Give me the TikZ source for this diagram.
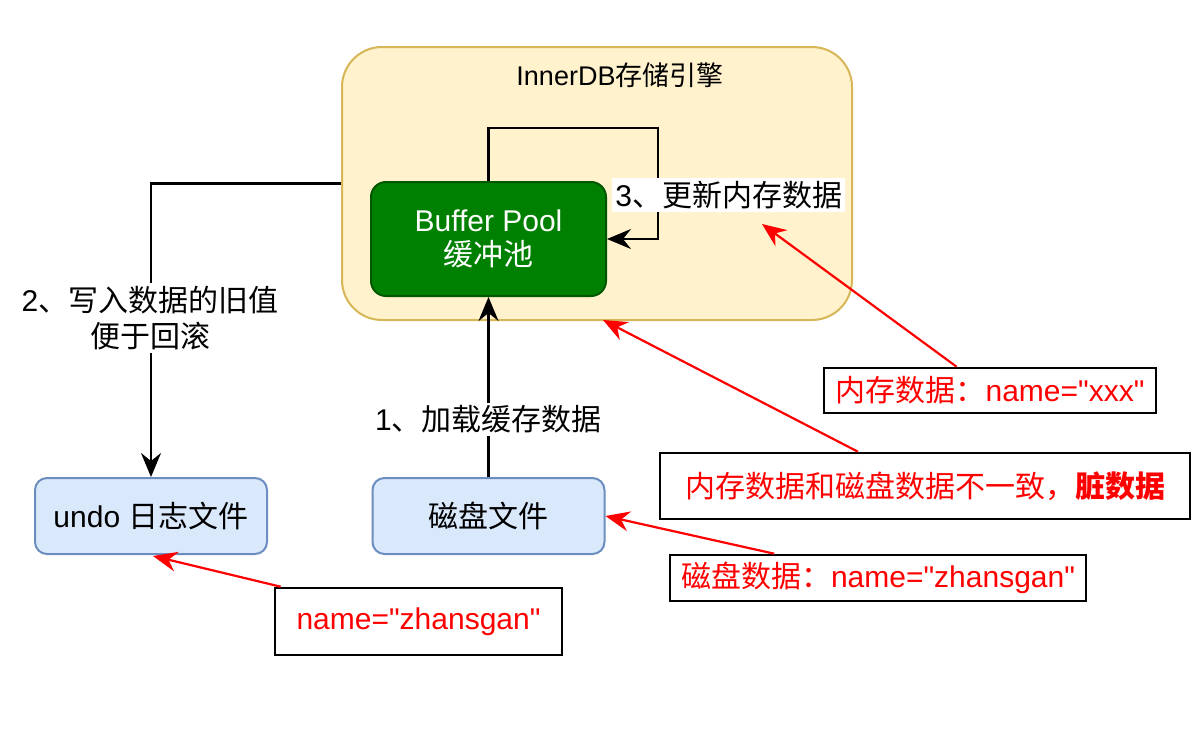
\documentclass[tikz,border=0pt]{standalone}
\usepackage{fontspec}
\setmainfont{Liberation Sans}[Ligatures=TeXOff]
\newfontfamily\cjk{Noto Sans CJK SC}
\usetikzlibrary{arrows.meta,calc}
\definecolor{engfill}{HTML}{FFF2CC}
\definecolor{engdraw}{HTML}{D6B656}
\definecolor{bpfill}{HTML}{008000}
\definecolor{bpdraw}{HTML}{005700}
\definecolor{filefill}{HTML}{DAE8FC}
\definecolor{filedraw}{HTML}{6C8EBF}
\definecolor{myred}{HTML}{FF0000}
\tikzset{
  txt/.style={font=\fontsize{15pt}{18pt}\selectfont},
  engine/.style={draw=engdraw, fill=engfill, line width=1pt, rounded corners=20pt,
    minimum width=255pt, minimum height=136.5pt},
  bpbox/.style={draw=bpdraw, fill=bpfill, line width=1pt, rounded corners=7.5pt,
    minimum width=117.5pt, minimum height=57pt, text=white, align=center, txt},
  filebox/.style={draw=filedraw, fill=filefill, line width=1pt, rounded corners=6pt,
    minimum width=116pt, minimum height=38pt, txt},
  notebox/.style={draw=black, line width=1.3pt, text=myred, txt, inner sep=0pt},
  lbl/.style={fill=white, txt, inner sep=1.5pt, align=center},
  blackarrow/.style={draw=black, line width=1.1pt, -{Stealth[length=12pt,width=10pt,inset=4pt]}},
  redarrow/.style={draw=myred, line width=1.1pt, -{Stealth[length=12pt,width=10pt,inset=4pt]}},
}
\begin{document}
\begin{tikzpicture}[x=0.5pt, y=-0.5pt]
\useasboundingbox (0,0) rectangle (1194,744);
% engine container
\node[engine] (eng) at (597,183.5) {};
\node[font=\fontsize{13.5pt}{16pt}\selectfont] (title) at (620,75) {InnerDB{\cjk 存储引擎}};
% main boxes
\node[bpbox] (bp) at (488.5,239) {Buffer Pool\\[-1pt]{\cjk 缓冲池}};
\node[filebox] (undo) at (151,516) {undo {\cjk 日志文件}};
\node[filebox] (disk) at (488.5,516) {{\cjk 磁盘文件}};
% note boxes
\node[notebox, minimum width=166pt, minimum height=22.5pt] (mem) at (990,390.5) {{\cjk 内存数据：}name="xxx"};
\node[notebox, minimum width=265pt, minimum height=33pt] (dirty) at (925,486) {{\cjk 内存数据和磁盘数据不一致，{\bfseries 脏数据}}};
\node[notebox, minimum width=208pt, minimum height=23pt] (diskdata) at (878,578) {{\cjk 磁盘数据：}name="zhansgan"};
\node[notebox, minimum width=143.5pt, minimum height=33.5pt] (undodata) at (418.5,621.5) {name="zhansgan"};
% black connectors
\draw[blackarrow] (disk.north) -- node[lbl, pos=0.32] (l1) {1{\cjk 、加载缓存数据}} (bp.south);
\coordinate (loopTR) at (658,128);
\draw[blackarrow] (bp.north) |- (loopTR) |- (bp.east);
\node[lbl, anchor=west] (l3) at (612,195) {3{\cjk 、更新内存数据}};
\draw[blackarrow] (eng.west) -| (undo.north);
\node[lbl] (l2) at (150,318) {2{\cjk 、写入数据的旧值}\\{\cjk 便于回滚}};
% red connectors
\coordinate (memT) at (762,224);
\coordinate (dirtyT) at (603,320);
\coordinate (undoT) at (153,556);
\draw[redarrow] ($(mem.north west)!0.4!(mem.north east)$) -- (memT);
\draw[redarrow] ($(dirty.north west)!0.374!(dirty.north east)$) -- (dirtyT);
\draw[redarrow] ($(diskdata.north west)!0.252!(diskdata.north east)$) -- (disk.east);
\draw[redarrow] ($(undodata.north west)!0.024!(undodata.north east)$) -- (undoT);
\end{tikzpicture}
\end{document}
